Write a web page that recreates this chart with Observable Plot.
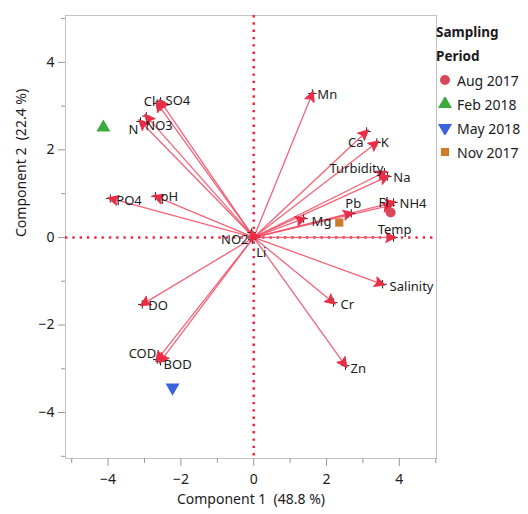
<!DOCTYPE html>
<html><head><meta charset="utf-8">
<script src="https://cdn.jsdelivr.net/npm/d3@7"></script>
<script src="https://cdn.jsdelivr.net/npm/@observablehq/plot@0.6"></script>
<style>
body{margin:0;background:#fff;font-family:"Noto Sans",sans-serif;}
#wrap{position:relative;width:528px;height:514px;}
#legend{position:absolute;left:436px;top:20px;color:#1b1b22;font-size:14px;}
#legend .t{font-weight:bold;font-size:13.5px;line-height:24px;}
#legend .row{display:flex;align-items:center;height:24px;}
#legend svg{width:18px;height:14px;margin-right:3px;}
</style></head><body><div id="wrap"><div id="legend"></div></div>
<script>
// ---- data ----
const variables = ["Mn","Cl","SO4","N","NO3","Ca","K","Turbidity","Na","Pb","Fl","NH4","Mg","Temp","PO4","pH","NO2","Li","DO","COD","BOD","Salinity","Cr","Zn"];
const loadX = [1.61,-2.65,-2.56,-3.11,-2.95,3.10,3.38,3.59,3.67,2.68,3.76,3.84,1.37,3.84,-3.94,-2.70,-0.06,-0.04,-3.06,-2.65,-2.56,3.54,2.19,2.52];
const loadY = [3.29,3.06,3.11,2.65,2.77,2.42,2.17,1.49,1.39,0.55,0.73,0.80,0.43,0.00,0.89,0.94,0.11,-0.05,-1.53,-2.79,-2.83,-1.07,-1.49,-2.93];
const periods = ["Aug 2017","Feb 2018","May 2018","Nov 2017"];
const scoreX = [3.76,-4.13,-2.23,2.35];
const scoreY = [0.57,2.51,-3.43,0.34];
const xTicks = [-4,-2,0,2,4];
const yTicks = [-4,-2,0,2,4];
const minorTicks = [-5,-3,-1,1,3,5];
const xTitle = "Component 1  (48.8 %)";
const yTitle = "Component 2  (22.4 %)";
const legendTitle = ["Sampling","Period"];

// ---- label placement (style) ----
const labelPlace = {
  Mn:["start",5,1], Cl:["end",-2,-2], SO4:["start",5,0], N:["end",-2,8], NO3:["start",-1,10],
  Ca:["end",-3,11], K:["start",4,0], Turbidity:["end",-1,-3], Na:["start",6,1], Pb:["middle",2,-10],
  Fl:["end",-2,-3], NH4:["start",6,1], Mg:["start",8,3], Temp:["middle",1,-8], PO4:["start",6,2],
  pH:["start",5,1], NO2:["end",-3,7], Li:["start",4,13], DO:["start",6,1], COD:["end",-1,-6],
  BOD:["start",3,4], Salinity:["start",7,3], Cr:["start",7,2], Zn:["start",5,3]
};
const periodStyle = {
  "Aug 2017":{symbol:"circle",fill:"#d9475a",r:5,rotate:0},
  "Feb 2018":{symbol:"triangle",fill:"#3aaa3c",r:5.2,rotate:0},
  "May 2018":{symbol:"triangle",fill:"#3b63dc",r:5.2,rotate:180},
  "Nov 2017":{symbol:"square",fill:"#cf7a28",r:4.6,rotate:0}
};

const W = 528, H = 514, mL = 65, mR = 92, mT = 15, mB = 56;
const xDom = [-5.17, 5.02], yDom = [-5.05, 5.07];
const sx = (W - mL - mR) / (xDom[1] - xDom[0]);
const sy = (H - mT - mB) / (yDom[1] - yDom[0]);

const loadings = variables.map((v, i) => ({v, x: loadX[i], y: loadY[i],
  ang: Math.atan2(loadX[i] * sx, loadY[i] * sy) * 180 / Math.PI}));
const scores = periods.map((p, i) => ({p, x: scoreX[i], y: scoreY[i]}));

const arrowHead = {draw(ctx, size) {
  const h = Math.sqrt(size) * 1.3, w = h * 0.5, o = 2.5;
  ctx.moveTo(0, -o); ctx.lineTo(w, h - o); ctx.lineTo(0, h * 0.8 - o); ctx.lineTo(-w, h - o); ctx.closePath();
}};

const red = "#ea2c45";
const textColor = "#1b1b22";

const marks = [
  Plot.frame({stroke: "#c4c4c4"}),
  Plot.ruleX([0], {stroke: red, strokeWidth: 2.6, strokeDasharray: "2.4,4.9"}),
  Plot.ruleY([0], {stroke: red, strokeWidth: 2.6, strokeDasharray: "2.4,4.9"}),
  Plot.axisX({ticks: xTicks, tickSize: 8, tickPadding: 8, fontSize: 14, stroke: "#999", color: textColor, label: null}),
  Plot.axisX({ticks: minorTicks, tickSize: 5, text: null, stroke: "#999", label: null}),
  Plot.axisY({ticks: yTicks, tickSize: 7, tickPadding: 4, fontSize: 14, stroke: "#999", color: textColor, label: null}),
  Plot.axisY({ticks: minorTicks, tickSize: 4, text: null, stroke: "#999", label: null}),
  Plot.link(loadings, {x1: 0, y1: 0, x2: "x", y2: "y", stroke: "#f2536a", strokeWidth: 1.3, strokeOpacity: 0.9}),
  Plot.dot(loadings, {x: "x", y: "y", symbol: "plus", r: 2.8, stroke: "#222", strokeWidth: 1}),
  Plot.dot(loadings, {x: "x", y: "y", symbol: arrowHead, r: 4.5, fill: red, stroke: red, strokeWidth: 0.8, rotate: "ang"}),
];
for (const anchor of ["start", "end", "middle"]) {
  for (const d of loadings.filter(d => labelPlace[d.v][0] === anchor)) {
    marks.push(Plot.text([d], {x: "x", y: "y", text: "v", textAnchor: anchor,
      dx: labelPlace[d.v][1], dy: labelPlace[d.v][2], fontSize: 13, fill: textColor}));
  }
}
for (const s of scores) {
  const st = periodStyle[s.p];
  marks.push(Plot.dot([s], {x: "x", y: "y", symbol: st.symbol, r: st.r, fill: st.fill, rotate: st.rotate}));
}
marks.push(Plot.text([xTitle], {frameAnchor: "bottom", dy: 45, fontSize: 14, fill: textColor}));
marks.push(Plot.text([yTitle], {frameAnchor: "left", dx: -44, rotate: -90, fontSize: 14, fill: textColor}));

const chart = Plot.plot({
  width: W, height: H,
  marginLeft: mL, marginRight: mR, marginTop: mT, marginBottom: mB,
  x: {domain: xDom},
  y: {domain: yDom},
  style: {fontFamily: "'Noto Sans', sans-serif", background: "#fff"},
  marks
});
document.getElementById("wrap").prepend(chart);

// legend
const lg = document.getElementById("legend");
lg.innerHTML = legendTitle.map(t => `<div class="t">${t}</div>`).join("");
for (const p of periods) {
  const st = periodStyle[p];
  const sym = d3.symbol(st.symbol === "circle" ? d3.symbolCircle : st.symbol === "square" ? d3.symbolSquare : d3.symbolTriangle, Math.PI * st.r * st.r)();
  const row = document.createElement("div");
  row.className = "row";
  row.innerHTML = `<svg viewBox="-9 -7 18 14"><path d="${sym}" fill="${st.fill}" transform="rotate(${st.rotate})"/></svg><span>${p}</span>`;
  lg.appendChild(row);
}
</script></body></html>
